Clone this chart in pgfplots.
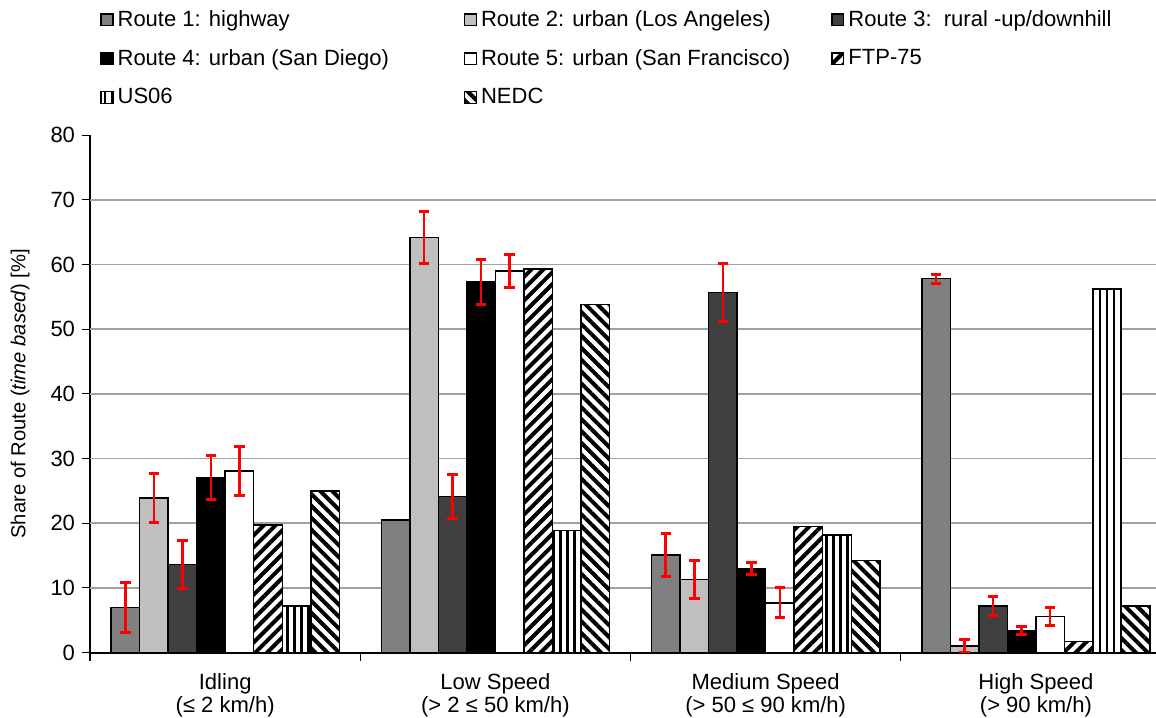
\documentclass[border=0pt]{standalone}
\usepackage{pgfplots}
\pgfplotsset{compat=1.18}
\usepackage{pgfplotstable}
\usepackage{fontspec}
\setmainfont{Liberation Sans}
\usetikzlibrary{patterns.meta}
\newcommand\fs{\fontsize{11}{11.5}\selectfont}

\pgfplotstableread{
x y e
0 7.0 3.9
1 20.5 0
2 15.1 3.3
3 57.8 0.7
}\rA
\pgfplotstableread{
x y e
0 7.0 3.9
2 15.1 3.3
3 57.8 0.7
}\rAerr
\pgfplotstableread{
x y e
0 23.9 3.8
1 64.2 4.0
2 11.3 3.0
3 1.0 1.0
}\rB
\pgfplotstableread{
x y e
0 13.6 3.65
1 24.1 3.45
2 55.7 4.5
3 7.2 1.4
}\rC
\pgfplotstableread{
x y e
0 27.1 3.4
1 57.3 3.5
2 13.0 1.0
3 3.4 0.6
}\rD
\pgfplotstableread{
x y e
0 28.1 3.8
1 59.0 2.5
2 7.7 2.3
3 5.6 1.4
}\rE
\pgfplotstableread{
x y
0 19.7
1 59.3
2 19.5
3 1.7
}\ftp
\pgfplotstableread{
x y
0 7.2
1 18.9
2 18.2
3 56.2
}\us
\pgfplotstableread{
x y
0 25.0
1 53.8
2 14.2
3 7.2
}\nedc

\begin{document}
\begin{tikzpicture}
\begin{axis}[name=ax,
  width=540pt, height=258.5pt, scale only axis,
  xmin=-0.5, xmax=3.5, ymin=0, ymax=80,
  ybar, bar width=0.1056,
  axis lines=left, axis line style={-, line width=1pt, black},
  tick align=outside, major tick length=4pt,
  ytick={0,10,...,80},
  ytick style={line width=0.6pt, black},
  /pgf/number format/assume math mode=true,
  tick label style={font=\fs},
  extra y ticks={10,20,...,70}, extra y tick labels={},
  extra y tick style={grid=major, major tick length=0pt},
  major grid style={line width=0.75pt, color=black!37},
  xtick={0,1,2,3},
  xticklabels={{Idling\\(≤ 2 km/h)},{Low Speed\\(> 2 ≤ 50 km/h)},{Medium Speed\\(> 50 ≤ 90 km/h)},{High Speed\\(> 90 km/h)}},
  x tick label style={align=center, yshift=-3pt},
  xtick style={draw=none},
  extra x ticks={-0.5,0.5,1.5,2.5}, extra x tick labels={},
  extra x tick style={xtick style={draw=black, line width=0.6pt}},
  ylabel={Share of Route (\textit{time based}) [\%]},
  ylabel style={font=\fontsize{10.1}{12}\selectfont, at={(axis description cs:-0.0648,0.5)}, anchor=center},
  every axis plot/.append style={draw=black, line width=0.75pt},
  legend columns=3,
  legend cell align=left,
  legend style={draw=none, fill=none, font=\fs, at={(axis description cs:0,1)}, anchor=south west, xshift=5pt, yshift=12pt, row sep=6pt, inner sep=0pt},
  legend image code/.code={\draw[#1] (0pt,-2.9pt) rectangle (5.8pt,2.9pt);},
]
\addplot[fill=black!50, bar shift=-0.3696] table[x=x,y=y]{\rA};
\addlegendentry{\makebox[171pt][l]{Route 1: highway}}
\addplot[fill=black!25, bar shift=-0.264] table[x=x,y=y]{\rB};
\addlegendentry{\makebox[173pt][l]{Route 2: urban (Los Angeles)}}
\addplot[fill=black!75, bar shift=-0.1584] table[x=x,y=y]{\rC};
\addlegendentry{Route 3:\ \ rural -up/downhill}
\addplot[fill=black, bar shift=-0.0528] table[x=x,y=y]{\rD};
\addlegendentry{\makebox[171pt][l]{Route 4: urban (San Diego)}}
\addplot[fill=white, bar shift=0.0528] table[x=x,y=y]{\rE};
\addlegendentry{\makebox[173pt][l]{Route 5: urban (San Francisco)}}
\addplot[fill=white, postaction={pattern={Lines[angle=45,distance=4.2pt,line width=2pt]}}, bar shift=0.1584] table[x=x,y=y]{\ftp};
\addlegendentry{FTP-75}
\addplot[fill=white, postaction={pattern={Lines[angle=90,distance=3.5pt,line width=1.3pt]}}, bar shift=0.264] table[x=x,y=y]{\us};
\addlegendentry{\makebox[171pt][l]{US06}}
\addplot[fill=white, postaction={pattern={Lines[angle=-45,distance=4.2pt,line width=2pt]}}, bar shift=0.3696] table[x=x,y=y]{\nedc};
\addlegendentry{NEDC}
% error bars
\pgfplotsset{errstyle/.style={forget plot, draw=none, fill=none, bar shift=#1,
  error bars/.cd, y dir=both, y explicit,
  error bar style={draw=red, line width=1.3pt},
  error mark options={draw=red, line width=1.5pt, mark size=2.6pt, rotate=90}}}
\addplot[errstyle=-0.3696] table[x=x,y=y,y error=e]{\rAerr};
\addplot[errstyle=-0.264] table[x=x,y=y,y error=e]{\rB};
\addplot[errstyle=-0.1584] table[x=x,y=y,y error=e]{\rC};
\addplot[errstyle=-0.0528] table[x=x,y=y,y error=e]{\rD};
\addplot[errstyle=0.0528] table[x=x,y=y,y error=e]{\rE};
\end{axis}
\pgfresetboundingbox
\path ([xshift=-45pt,yshift=-32.5pt]ax.south west) rectangle ([xshift=-7.5pt,yshift=67.5pt]ax.north east);
\end{tikzpicture}
\end{document}
